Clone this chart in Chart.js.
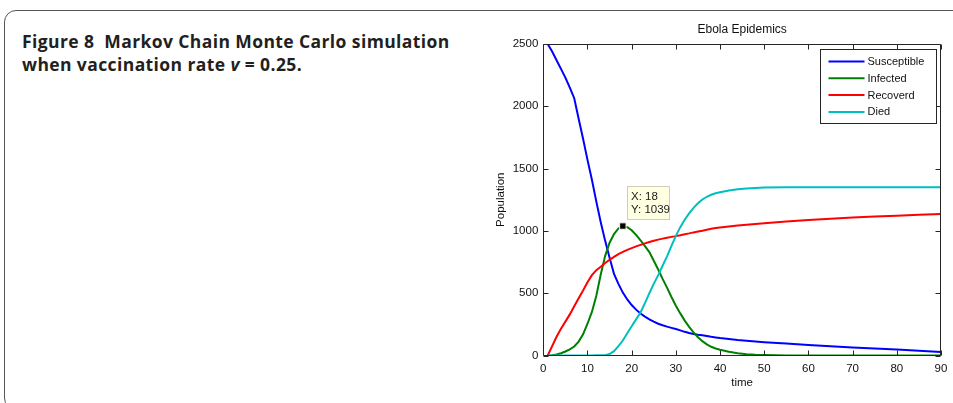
<!DOCTYPE html>
<html>
<head>
<meta charset="utf-8">
<script src="https://cdn.jsdelivr.net/npm/chart.js@4.4.1/dist/chart.umd.min.js"></script>
<style>
    body { margin: 0; background: #fff; width: 953px; height: 403px; overflow: hidden; position: relative; }
    .frame {
        position: absolute; left: 4px; top: 10px; width: 1000px; height: 400px;
        border: 1px solid #555; border-radius: 12px; box-sizing: border-box;
    }
    .caption {
        position: absolute; left: 22px; top: 30px; width: 460px;
        font-family: 'Open Sans', sans-serif; font-weight: 700; font-size: 17.5px;
        line-height: 23.4px; letter-spacing: 0.4px; color: #231f20; white-space: nowrap;
    }
    #chart { position: absolute; left: 480px; top: 0; }
</style>
</head>
<body>
<div class="frame"></div>
<div class="caption">Figure 8&nbsp;&nbsp;Markov Chain Monte Carlo simulation<br>when vaccination rate <i>v</i> = 0.25.</div>
<canvas id="chart" width="473" height="403"></canvas>
<script>
// time axis (days) shared by all four series
const time = [1, 2, 3, 4, 5, 6, 7, 8, 9, 10, 11, 12, 13, 14, 15, 16, 17, 18, 19, 20,
    21, 22, 23, 24, 25, 26, 27, 28, 29, 30, 31, 32, 33, 34, 35, 36, 37, 38, 39, 40,
    42, 44, 46, 48, 50, 55, 60, 65, 70, 75, 80, 85, 90];

const susceptible = [2500, 2440, 2370, 2300, 2230, 2150, 2065, 1900, 1740, 1570, 1410, 1235, 1070, 920, 785, 655, 575, 505, 450, 405,
    368, 337, 312, 290, 272, 255, 243, 232, 222, 212, 202, 190, 180, 173, 167, 162, 156, 150, 145, 140,
    132, 124, 118, 112, 107, 96, 84, 74, 65, 57, 48, 38, 28];

const infected = [0, 3, 8, 18, 32, 50, 72, 112, 170, 255, 350, 480, 650, 800, 905, 975, 1020, 1039, 1030, 1005,
    968, 925, 878, 830, 760, 690, 615, 545, 470, 400, 338, 280, 230, 185, 147, 115, 90, 70, 56, 46,
    30, 18, 10, 6, 4, 1, 0, 0, 0, 0, 0, 0, 0];

const recovered = [0, 75, 150, 215, 272, 330, 395, 460, 522, 588, 645, 685, 712, 742, 768, 792, 814, 832, 848, 862,
    876, 888, 900, 911, 921, 930, 938, 945, 952, 958, 965, 973, 980, 988, 995, 1002, 1010, 1017, 1023, 1028,
    1036, 1043, 1050, 1056, 1062, 1075, 1087, 1098, 1107, 1115, 1122, 1129, 1135];

const died = [0, 0, 0, 0, 0, 0, 0, 0, 1, 1, 1, 2, 2, 3, 12, 35, 75, 120, 178, 235,
    290, 345, 420, 500, 575, 645, 720, 795, 880, 960, 1030, 1090, 1140, 1185, 1222, 1252, 1274, 1290, 1302, 1310,
    1324, 1334, 1341, 1345, 1348, 1350, 1350, 1350, 1350, 1350, 1350, 1350, 1350];

const seriesNames = ['Susceptible', 'Infected', 'Recoverd', 'Died'];
const seriesColors = ['#0000ff', '#008000', '#ff0000', '#00bfbf'];

// data tip on the infected peak
const tipX = 18;
const tipY = 1039;

const xTicks = [0, 10, 20, 30, 40, 50, 60, 70, 80, 90];
const yTicks = [0, 500, 1000, 1500, 2000, 2500];

const toPoints = (vals) => vals.map((v, i) => ({ x: time[i], y: v }));

const FONT = "'Liberation Sans', Arial, sans-serif";

// matlab style box, inward ticks, legend and data tip
const matlabAxes = {
    id: 'matlabAxes',
    afterDraw(chart) {
        const { ctx, chartArea: a, scales: { x, y } } = chart;
        const L = Math.round(a.left) + 0.5, R = Math.round(a.right) - 0.5;
        const T = Math.round(a.top) + 0.5, B = Math.round(a.bottom) - 0.5;
        ctx.save();
        ctx.strokeStyle = '#262626';
        ctx.lineWidth = 1;
        ctx.beginPath();
        ctx.rect(L, T, R - L, B - T);
        xTicks.forEach(v => {
            const px = Math.round(x.getPixelForValue(v)) + 0.5;
            ctx.moveTo(px, B); ctx.lineTo(px, B - 5);
            ctx.moveTo(px, T); ctx.lineTo(px, T + 5);
        });
        yTicks.forEach(v => {
            const py = Math.round(y.getPixelForValue(v)) + 0.5;
            ctx.moveTo(L, py); ctx.lineTo(L + 5, py);
            ctx.moveTo(R, py); ctx.lineTo(R - 5, py);
        });
        ctx.stroke();

        // legend
        const lw = 116, lh = 74;
        const lx = Math.round(a.right) - 5 - lw + 0.5, ly = Math.round(a.top) + 5 + 0.5;
        ctx.fillStyle = '#fff';
        ctx.fillRect(lx, ly, lw, lh);
        ctx.strokeStyle = '#262626';
        ctx.strokeRect(lx, ly, lw, lh);
        ctx.font = '11px ' + FONT;
        ctx.textBaseline = 'middle';
        ctx.textAlign = 'left';
        seriesNames.forEach((name, i) => {
            const ry = ly + 12 + i * 16.8;
            ctx.strokeStyle = seriesColors[i];
            ctx.lineWidth = 2;
            ctx.beginPath();
            ctx.moveTo(lx + 8, ry); ctx.lineTo(lx + 44, ry);
            ctx.stroke();
            ctx.fillStyle = '#111';
            ctx.fillText(name, lx + 47, ry + 0.5);
        });

        // data tip box
        const px = x.getPixelForValue(tipX), py = y.getPixelForValue(tipY);
        const bx = Math.round(px + 4) + 0.5, by = Math.round(py - 40) + 0.5;
        ctx.fillStyle = '#ffffe1';
        ctx.fillRect(bx, by, 42, 33);
        ctx.strokeStyle = '#cfcfb8';
        ctx.lineWidth = 1;
        ctx.strokeRect(bx, by, 42, 33);
        ctx.fillStyle = '#222';
        ctx.textBaseline = 'alphabetic';
        ctx.font = '11.5px ' + FONT;
        ctx.fillText('X: ' + tipX, bx + 3.5, py - 26);
        ctx.fillText('Y: ' + tipY, bx + 3.5, py - 13);
        ctx.restore();
    }
};

const datasets = [susceptible, infected, recovered, died].map((vals, i) => ({
    label: seriesNames[i],
    data: toPoints(vals),
    borderColor: seriesColors[i],
    backgroundColor: seriesColors[i],
    borderWidth: 2,
    pointRadius: 0,
    tension: 0,
    fill: false,
    order: 4 - i
}));

datasets.push({
    type: 'scatter',
    label: 'tip',
    data: [{ x: tipX, y: tipY }],
    pointStyle: 'rect',
    pointRadius: 4.5,
    backgroundColor: '#000',
    borderColor: '#f4f4dc',
    borderWidth: 1,
    clip: false,
    order: 0
});

new Chart(document.getElementById('chart'), {
    type: 'line',
    data: { datasets },
    options: {
        responsive: false,
        animation: false,
        devicePixelRatio: 1,
        events: [],
        layout: { padding: { left: 0, right: 12, top: 0, bottom: 0 } },
        plugins: {
            legend: { display: false },
            tooltip: { enabled: false },
            title: {
                display: true,
                text: 'Ebola Epidemics',
                fullSize: false,
                color: '#111',
                font: { family: FONT, size: 12, weight: 'normal' },
                padding: { top: 22, bottom: 7.6 }
            }
        },
        scales: {
            x: {
                type: 'linear',
                min: 0, max: 90,
                afterBuildTicks: s => { s.ticks = xTicks.map(v => ({ value: v })); },
                afterFit: s => { s.height = 47.5; },
                grid: { display: false },
                border: { display: false },
                ticks: { color: '#111', padding: -2, font: { family: FONT, size: 11.5 }, maxRotation: 0, callback: v => String(v) },
                title: { display: true, text: 'time', color: '#111', font: { family: FONT, size: 11.5 }, padding: { bottom: 13.1 } }
            },
            y: {
                min: 0, max: 2500,
                afterBuildTicks: s => { s.ticks = yTicks.map(v => ({ value: v })); },
                afterFit: s => { s.width = 63.3; },
                grid: { display: false },
                border: { display: false },
                ticks: { color: '#111', padding: -3, font: { family: FONT, size: 11.5 }, callback: v => String(v) },
                title: { display: true, text: 'Population', color: '#111', font: { family: FONT, size: 11.5 }, padding: { top: 13.9 } }
            }
        }
    },
    plugins: [matlabAxes]
});
</script>
</body>
</html>
